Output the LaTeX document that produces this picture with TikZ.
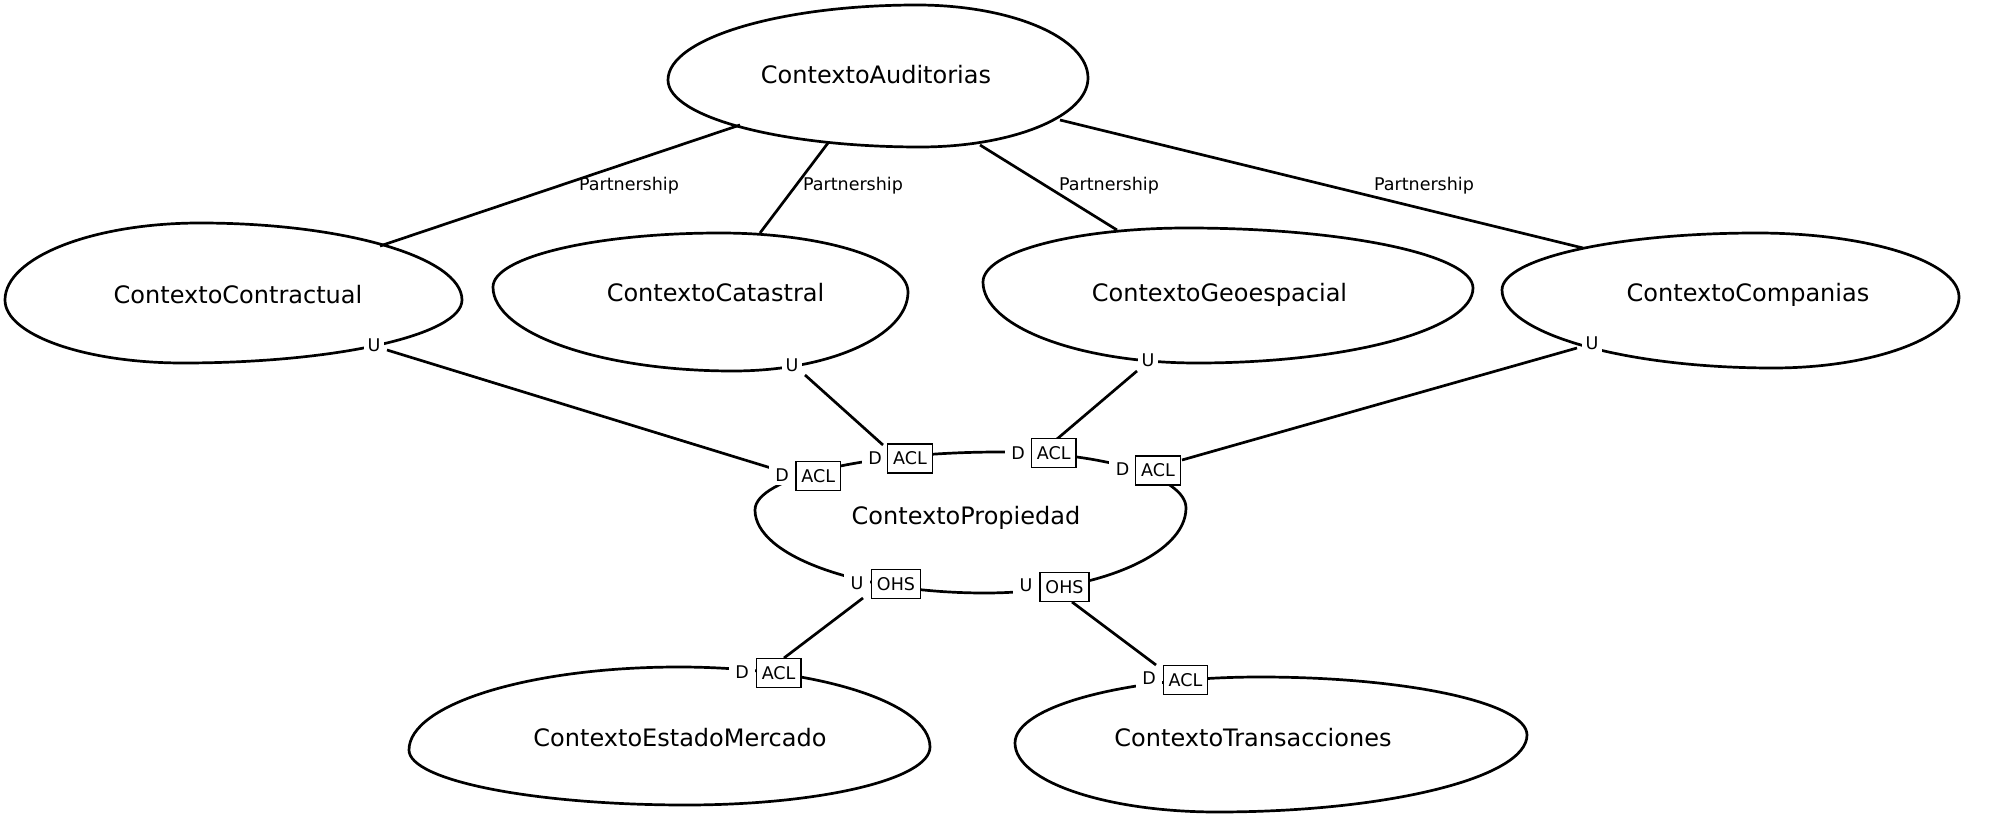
\documentclass[tikz,border=0pt]{standalone}
\usepackage{fontspec}
\setmainfont{DejaVu Sans}
\tikzset{
  outl/.style={line width=2.7pt},
  conn/.style={line width=2.7pt},
  ctx/.style={font=\fontsize{24}{28}\selectfont, inner sep=0pt, text height=17.5pt, text depth=0pt},
  small/.style={font=\fontsize{17.5}{21}\selectfont, inner sep=0pt, text height=12.8pt, text depth=0pt},
  plab/.style={small},
  ulab/.style={small, fill=white, inner xsep=4pt, inner ysep=3pt},
  dlab/.style={small, fill=white, inner xsep=6.5pt, inner ysep=4pt},
  tag/.style={small, draw, fill=white, line width=1.3pt, inner xsep=5.5pt, minimum height=29pt},
  egg/.style n args={8}{insert path={
    (#1,#2) .. controls (#1,{#2+0.552*(#4-#2)}) and ({#3-0.552*(#3-#1)},#4) .. (#3,#4)
    .. controls ({#3+0.552*(#5-#3)},#4) and (#5,{#6-0.552*(#6-#4)}) .. (#5,#6)
    .. controls (#5,{#6+0.552*(#8-#6)}) and ({#7+0.552*(#5-#7)},#8) .. (#7,#8)
    .. controls ({#7-0.552*(#7-#1)},#8) and (#1,{#2+0.552*(#8-#2)}) .. cycle}},
}
\begin{document}
\begin{tikzpicture}[x=1pt,y=-1pt]
\useasboundingbox (0,0) rectangle (2000,821);
% context outlines
\draw[outl, egg={668}{80}{917}{5}{1088}{78}{920}{147}];
\draw[outl, egg={5}{300}{200}{223}{462}{300}{183}{363}];
\draw[outl, egg={493}{287}{720}{233}{908}{292}{733}{371}];
\draw[outl, egg={983}{282}{1187}{228}{1473}{288}{1197}{363}];
\draw[outl, egg={1502}{290}{1757}{233}{1959}{297}{1773}{368}];
\draw[outl, egg={755}{510}{1000}{452}{1186}{508}{985}{593}];
\draw[outl, egg={409}{750}{679}{667}{930}{747}{686}{805}];
\draw[outl, egg={1015}{743}{1260}{677}{1527}{735}{1217}{812}];
% context names
\node[ctx] (aud) at (876,75) {ContextoAuditorias};
\node[ctx] (contr) at (238,295) {ContextoContractual};
\node[ctx] (cat) at (715.5,293) {ContextoCatastral};
\node[ctx] (geo) at (1219.5,293) {ContextoGeoespacial};
\node[ctx] (comp) at (1748,293) {ContextoCompanias};
\node[ctx] (prop) at (966,516) {ContextoPropiedad};
\node[ctx] (mer) at (680,738) {ContextoEstadoMercado};
\node[ctx] (tra) at (1253,738) {ContextoTransacciones};
% connector end points
\coordinate (audP1) at (740,125); \coordinate (contrP1) at (380,246);
\coordinate (audP2) at (828,143); \coordinate (catP2) at (760,233);
\coordinate (audP3) at (980,145); \coordinate (geoP3) at (1117,230);
\coordinate (audP4) at (1060,120); \coordinate (compP4) at (1583,248);
\coordinate (contrE1) at (387,350); \coordinate (propE1) at (771,468);
\coordinate (catE2) at (805,375); \coordinate (propE2) at (883,445);
\coordinate (geoE3) at (1137,371); \coordinate (propE3) at (1057,439);
\coordinate (compE4) at (1577,348); \coordinate (propE4) at (1182,460);
\coordinate (propE5) at (863,598); \coordinate (merE5) at (784,658);
\coordinate (propE6) at (1072,602); \coordinate (traE6) at (1156,665);
% connectors
\draw[conn] (audP1) -- (contrP1);
\draw[conn] (audP2) -- (catP2);
\draw[conn] (audP3) -- (geoP3);
\draw[conn] (audP4) -- (compP4);
\draw[conn] (contrE1) -- (propE1);
\draw[conn] (catE2) -- (propE2);
\draw[conn] (geoE3) -- (propE3);
\draw[conn] (compE4) -- (propE4);
\draw[conn] (propE5) -- (merE5);
\draw[conn] (propE6) -- (traE6);
% partnership labels
\node[plab] (pl1) at (629,184) {Partnership};
\node[plab] (pl2) at (853,184) {Partnership};
\node[plab] (pl3) at (1109,184) {Partnership};
\node[plab] (pl4) at (1424,184) {Partnership};
% upstream labels on outer contexts
\node[ulab] (uContr) at (374,345) {U};
\node[ulab] (uCat) at (792,365) {U};
\node[ulab] (uGeo) at (1148,360) {U};
\node[ulab] (uComp) at (1592,343) {U};
% labels on ContextoPropiedad
\node[dlab] (dContr) at (782,475) {D};
\node[tag] (aclContr) at (818.3,476.3) {ACL};
\node[dlab] (dCat) at (875,458) {D};
\node[tag] (aclCat) at (910,458.5) {ACL};
\node[dlab] (dGeo) at (1018,452.7) {D};
\node[tag] (aclGeo) at (1053.7,453.3) {ACL};
\node[dlab] (dComp) at (1122.7,469) {D};
\node[tag] (aclComp) at (1158,470.5) {ACL};
\node[dlab] (uMer) at (857,582.7) {U};
\node[tag] (ohsMer) at (896,584) {OHS};
\node[dlab] (uTra) at (1026,585) {U};
\node[tag] (ohsTra) at (1064.5,587) {OHS};
% downstream labels
\node[dlab] (dMer) at (742,672) {D};
\node[tag] (aclMer) at (778.6,672.8) {ACL};
\node[dlab] (dTra) at (1149,678.3) {D};
\node[tag] (aclTra) at (1185.5,679.7) {ACL};
\end{tikzpicture}
\end{document}
